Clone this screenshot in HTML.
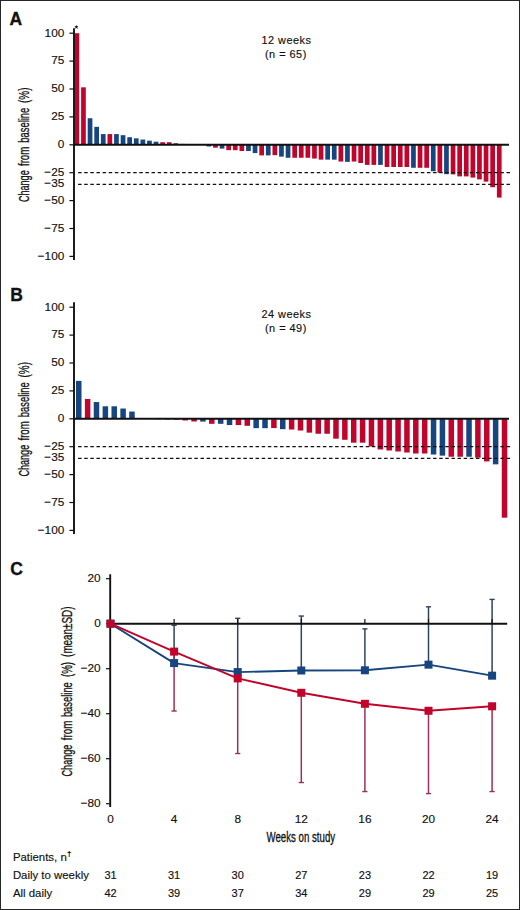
<!DOCTYPE html>
<html><head><meta charset="utf-8"><title>Figure</title>
<style>
html,body{margin:0;padding:0;background:#fff;}
body{width:520px;height:910px;overflow:hidden;}
.wrap{position:relative;width:520px;height:910px;background:#fff;}
svg{position:absolute;left:0;top:0;}
text{font-family:"Liberation Sans", sans-serif;fill:#111;stroke:#111;stroke-width:0.15px;}
.t{font-size:11.8px;}
.d{font-size:11px;}
.tb{font-size:11.4px;}
.h{font-size:10.9px;letter-spacing:0.5px;}
.yl{font-size:13.8px;stroke:#111;stroke-width:0.3px;}
.L{font-size:17.5px;font-weight:bold;stroke:#111;stroke-width:0.35px;}
</style></head>
<body><div class="wrap"><svg width="520" height="910" viewBox="0 0 520 910">
<rect x="74.50" y="33.20" width="4.7" height="111.60" fill="#C0042B"/>
<rect x="81.10" y="87.33" width="4.7" height="57.47" fill="#C0042B"/>
<rect x="87.70" y="118.24" width="4.7" height="26.56" fill="#17457F"/>
<rect x="94.30" y="126.83" width="4.7" height="17.97" fill="#17457F"/>
<rect x="100.90" y="134.09" width="4.7" height="10.71" fill="#17457F"/>
<rect x="107.50" y="134.09" width="4.7" height="10.71" fill="#C0042B"/>
<rect x="114.10" y="134.09" width="4.7" height="10.71" fill="#17457F"/>
<rect x="120.70" y="135.20" width="4.7" height="9.60" fill="#17457F"/>
<rect x="127.30" y="137.21" width="4.7" height="7.59" fill="#17457F"/>
<rect x="133.90" y="138.33" width="4.7" height="6.47" fill="#17457F"/>
<rect x="140.50" y="139.55" width="4.7" height="5.25" fill="#17457F"/>
<rect x="147.10" y="140.67" width="4.7" height="4.13" fill="#17457F"/>
<rect x="153.70" y="141.68" width="4.7" height="3.12" fill="#17457F"/>
<rect x="160.30" y="142.23" width="4.7" height="2.57" fill="#C0042B"/>
<rect x="166.90" y="142.23" width="4.7" height="2.57" fill="#C0042B"/>
<rect x="173.50" y="143.24" width="4.7" height="1.56" fill="#17457F"/>
<rect x="180.10" y="143.91" width="4.7" height="0.89" fill="#17457F"/>
<rect x="186.70" y="144.02" width="4.7" height="0.78" fill="#17457F"/>
<rect x="193.30" y="144.02" width="4.7" height="0.78" fill="#17457F"/>
<rect x="199.90" y="144.13" width="4.7" height="0.67" fill="#17457F"/>
<rect x="206.50" y="144.80" width="4.7" height="1.67" fill="#17457F"/>
<rect x="213.10" y="144.80" width="4.7" height="2.90" fill="#C0042B"/>
<rect x="219.70" y="144.80" width="4.7" height="3.79" fill="#17457F"/>
<rect x="226.30" y="144.80" width="4.7" height="5.36" fill="#C0042B"/>
<rect x="232.90" y="144.80" width="4.7" height="5.36" fill="#C0042B"/>
<rect x="239.50" y="144.80" width="4.7" height="6.25" fill="#C0042B"/>
<rect x="246.10" y="144.80" width="4.7" height="6.25" fill="#17457F"/>
<rect x="252.70" y="144.80" width="4.7" height="8.26" fill="#17457F"/>
<rect x="259.30" y="144.80" width="4.7" height="10.60" fill="#C0042B"/>
<rect x="265.90" y="144.80" width="4.7" height="10.60" fill="#17457F"/>
<rect x="272.50" y="144.80" width="4.7" height="10.38" fill="#C0042B"/>
<rect x="279.10" y="144.80" width="4.7" height="11.83" fill="#17457F"/>
<rect x="285.70" y="144.80" width="4.7" height="12.95" fill="#17457F"/>
<rect x="292.30" y="144.80" width="4.7" height="12.95" fill="#C0042B"/>
<rect x="298.90" y="144.80" width="4.7" height="12.95" fill="#C0042B"/>
<rect x="305.50" y="144.80" width="4.7" height="12.95" fill="#C0042B"/>
<rect x="312.10" y="144.80" width="4.7" height="13.73" fill="#C0042B"/>
<rect x="318.70" y="144.80" width="4.7" height="14.84" fill="#C0042B"/>
<rect x="325.30" y="144.80" width="4.7" height="14.84" fill="#17457F"/>
<rect x="331.90" y="144.80" width="4.7" height="14.84" fill="#17457F"/>
<rect x="338.50" y="144.80" width="4.7" height="16.74" fill="#C0042B"/>
<rect x="345.10" y="144.80" width="4.7" height="17.07" fill="#17457F"/>
<rect x="351.70" y="144.80" width="4.7" height="16.74" fill="#C0042B"/>
<rect x="358.30" y="144.80" width="4.7" height="18.19" fill="#C0042B"/>
<rect x="364.90" y="144.80" width="4.7" height="20.09" fill="#C0042B"/>
<rect x="371.50" y="144.80" width="4.7" height="20.09" fill="#C0042B"/>
<rect x="378.10" y="144.80" width="4.7" height="20.09" fill="#17457F"/>
<rect x="384.70" y="144.80" width="4.7" height="22.21" fill="#C0042B"/>
<rect x="391.30" y="144.80" width="4.7" height="22.21" fill="#C0042B"/>
<rect x="397.90" y="144.80" width="4.7" height="22.21" fill="#C0042B"/>
<rect x="404.50" y="144.80" width="4.7" height="22.21" fill="#C0042B"/>
<rect x="411.10" y="144.80" width="4.7" height="22.99" fill="#17457F"/>
<rect x="417.70" y="144.80" width="4.7" height="22.99" fill="#C0042B"/>
<rect x="424.30" y="144.80" width="4.7" height="22.99" fill="#C0042B"/>
<rect x="430.90" y="144.80" width="4.7" height="26.45" fill="#17457F"/>
<rect x="437.50" y="144.80" width="4.7" height="27.90" fill="#C0042B"/>
<rect x="444.10" y="144.80" width="4.7" height="29.35" fill="#17457F"/>
<rect x="450.70" y="144.80" width="4.7" height="29.57" fill="#C0042B"/>
<rect x="457.30" y="144.80" width="4.7" height="31.58" fill="#C0042B"/>
<rect x="463.90" y="144.80" width="4.7" height="31.58" fill="#C0042B"/>
<rect x="470.50" y="144.80" width="4.7" height="32.81" fill="#C0042B"/>
<rect x="477.10" y="144.80" width="4.7" height="34.60" fill="#C0042B"/>
<rect x="483.70" y="144.80" width="4.7" height="36.83" fill="#C0042B"/>
<rect x="490.30" y="144.80" width="4.7" height="42.41" fill="#C0042B"/>
<rect x="496.90" y="144.80" width="4.7" height="52.79" fill="#C0042B"/>
<line x1="78.1" y1="172.70" x2="510.8" y2="172.70" stroke="#111111" stroke-width="1.2" stroke-dasharray="3.5 2.62"/>
<line x1="78.1" y1="184.41" x2="510.8" y2="184.41" stroke="#111111" stroke-width="1.2" stroke-dasharray="3.5 2.62"/>
<line x1="74.0" y1="144.80" x2="509" y2="144.80" stroke="#111111" stroke-width="1.9"/>
<line x1="74.0" y1="28.20" x2="74.0" y2="260.00" stroke="#111111" stroke-width="1.9"/>
<line x1="69.4" y1="33.20" x2="74.0" y2="33.20" stroke="#111111" stroke-width="1.2"/>
<text x="64.3" y="36.55" text-anchor="end" class="t">100</text>
<line x1="69.4" y1="61.10" x2="74.0" y2="61.10" stroke="#111111" stroke-width="1.2"/>
<text x="64.3" y="64.45" text-anchor="end" class="t">75</text>
<line x1="69.4" y1="89.00" x2="74.0" y2="89.00" stroke="#111111" stroke-width="1.2"/>
<text x="64.3" y="92.35" text-anchor="end" class="t">50</text>
<line x1="69.4" y1="116.90" x2="74.0" y2="116.90" stroke="#111111" stroke-width="1.2"/>
<text x="64.3" y="120.25" text-anchor="end" class="t">25</text>
<line x1="69.4" y1="144.80" x2="74.0" y2="144.80" stroke="#111111" stroke-width="1.2"/>
<text x="64.3" y="148.15" text-anchor="end" class="t">0</text>
<line x1="69.4" y1="172.70" x2="74.0" y2="172.70" stroke="#111111" stroke-width="1.2"/>
<text x="64.3" y="176.05" text-anchor="end" class="t">−25</text>
<text x="64.3" y="187.21" text-anchor="end" class="t">−35</text>
<line x1="69.4" y1="200.60" x2="74.0" y2="200.60" stroke="#111111" stroke-width="1.2"/>
<text x="64.3" y="203.95" text-anchor="end" class="t">−50</text>
<line x1="69.4" y1="228.50" x2="74.0" y2="228.50" stroke="#111111" stroke-width="1.2"/>
<text x="64.3" y="231.85" text-anchor="end" class="t">−75</text>
<line x1="69.4" y1="256.40" x2="74.0" y2="256.40" stroke="#111111" stroke-width="1.2"/>
<text x="64.3" y="259.75" text-anchor="end" class="t">−100</text>
<text transform="translate(28.6,202.00) rotate(-90)" x="-0.06" class="yl" textLength="31.76" lengthAdjust="spacingAndGlyphs">Change</text>
<text transform="translate(28.6,166.30) rotate(-90)" x="0.26" class="yl" textLength="19.38" lengthAdjust="spacingAndGlyphs">from</text>
<text transform="translate(28.6,142.50) rotate(-90)" x="-0.21" class="yl" textLength="35.02" lengthAdjust="spacingAndGlyphs">baseline</text>
<text transform="translate(28.6,102.75) rotate(-90)" x="-0.22" class="yl" textLength="15.43" lengthAdjust="spacingAndGlyphs">(%)</text>
<text x="286.5" y="43.80" text-anchor="middle" class="h">12 weeks</text>
<text x="285.9" y="57.80" text-anchor="middle" class="h">(n = 65)</text>
<text x="9.6" y="24.60" class="L">A</text>
<polygon points="76.40,24.70 76.96,26.23 78.59,26.29 77.30,27.29 77.75,28.86 76.40,27.95 75.05,28.86 75.50,27.29 74.21,26.29 75.84,26.23" fill="#111"/>
<rect x="76.00" y="380.86" width="5.5" height="37.94" fill="#17457F"/>
<rect x="84.87" y="398.94" width="5.5" height="19.86" fill="#C0042B"/>
<rect x="93.74" y="402.06" width="5.5" height="16.74" fill="#17457F"/>
<rect x="102.61" y="406.30" width="5.5" height="12.50" fill="#17457F"/>
<rect x="111.48" y="406.30" width="5.5" height="12.50" fill="#17457F"/>
<rect x="120.35" y="408.53" width="5.5" height="10.27" fill="#17457F"/>
<rect x="129.22" y="411.55" width="5.5" height="7.25" fill="#17457F"/>
<rect x="138.09" y="418.58" width="5.5" height="0.22" fill="#17457F"/>
<rect x="146.96" y="418.80" width="5.5" height="0.22" fill="#17457F"/>
<rect x="155.83" y="418.80" width="5.5" height="0.45" fill="#17457F"/>
<rect x="164.70" y="418.80" width="5.5" height="0.67" fill="#17457F"/>
<rect x="173.57" y="418.80" width="5.5" height="0.89" fill="#C0042B"/>
<rect x="182.44" y="418.80" width="5.5" height="1.67" fill="#C0042B"/>
<rect x="191.31" y="418.80" width="5.5" height="2.68" fill="#C0042B"/>
<rect x="200.18" y="418.80" width="5.5" height="2.79" fill="#17457F"/>
<rect x="209.05" y="418.80" width="5.5" height="5.02" fill="#C0042B"/>
<rect x="217.92" y="418.80" width="5.5" height="5.02" fill="#17457F"/>
<rect x="226.79" y="418.80" width="5.5" height="6.25" fill="#17457F"/>
<rect x="235.66" y="418.80" width="5.5" height="6.25" fill="#C0042B"/>
<rect x="244.53" y="418.80" width="5.5" height="7.03" fill="#C0042B"/>
<rect x="253.40" y="418.80" width="5.5" height="9.37" fill="#17457F"/>
<rect x="262.27" y="418.80" width="5.5" height="9.37" fill="#17457F"/>
<rect x="271.14" y="418.80" width="5.5" height="9.26" fill="#C0042B"/>
<rect x="280.01" y="418.80" width="5.5" height="10.38" fill="#17457F"/>
<rect x="288.88" y="418.80" width="5.5" height="10.71" fill="#C0042B"/>
<rect x="297.75" y="418.80" width="5.5" height="11.72" fill="#C0042B"/>
<rect x="306.62" y="418.80" width="5.5" height="13.84" fill="#C0042B"/>
<rect x="315.49" y="418.80" width="5.5" height="14.95" fill="#C0042B"/>
<rect x="324.36" y="418.80" width="5.5" height="14.95" fill="#C0042B"/>
<rect x="333.23" y="418.80" width="5.5" height="19.86" fill="#C0042B"/>
<rect x="342.10" y="418.80" width="5.5" height="20.98" fill="#C0042B"/>
<rect x="350.97" y="418.80" width="5.5" height="23.88" fill="#C0042B"/>
<rect x="359.84" y="418.80" width="5.5" height="23.88" fill="#C0042B"/>
<rect x="368.71" y="418.80" width="5.5" height="27.68" fill="#C0042B"/>
<rect x="377.58" y="418.80" width="5.5" height="30.69" fill="#C0042B"/>
<rect x="386.45" y="418.80" width="5.5" height="31.69" fill="#C0042B"/>
<rect x="395.32" y="418.80" width="5.5" height="32.70" fill="#C0042B"/>
<rect x="404.19" y="418.80" width="5.5" height="33.70" fill="#C0042B"/>
<rect x="413.06" y="418.80" width="5.5" height="34.71" fill="#C0042B"/>
<rect x="421.93" y="418.80" width="5.5" height="34.71" fill="#C0042B"/>
<rect x="430.80" y="418.80" width="5.5" height="35.71" fill="#17457F"/>
<rect x="439.67" y="418.80" width="5.5" height="36.83" fill="#17457F"/>
<rect x="448.54" y="418.80" width="5.5" height="37.94" fill="#C0042B"/>
<rect x="457.41" y="418.80" width="5.5" height="37.94" fill="#C0042B"/>
<rect x="466.28" y="418.80" width="5.5" height="37.94" fill="#17457F"/>
<rect x="475.15" y="418.80" width="5.5" height="38.84" fill="#C0042B"/>
<rect x="484.02" y="418.80" width="5.5" height="42.63" fill="#C0042B"/>
<rect x="492.89" y="418.80" width="5.5" height="45.53" fill="#17457F"/>
<rect x="501.76" y="418.80" width="5.5" height="98.88" fill="#C0042B"/>
<line x1="78.1" y1="446.70" x2="510.8" y2="446.70" stroke="#111111" stroke-width="1.2" stroke-dasharray="3.5 2.62"/>
<line x1="78.1" y1="458.41" x2="510.8" y2="458.41" stroke="#111111" stroke-width="1.2" stroke-dasharray="3.5 2.62"/>
<line x1="74.0" y1="418.80" x2="509" y2="418.80" stroke="#111111" stroke-width="1.9"/>
<line x1="74.0" y1="302.20" x2="74.0" y2="534.00" stroke="#111111" stroke-width="1.9"/>
<line x1="69.4" y1="307.20" x2="74.0" y2="307.20" stroke="#111111" stroke-width="1.2"/>
<text x="64.3" y="310.55" text-anchor="end" class="t">100</text>
<line x1="69.4" y1="335.10" x2="74.0" y2="335.10" stroke="#111111" stroke-width="1.2"/>
<text x="64.3" y="338.45" text-anchor="end" class="t">75</text>
<line x1="69.4" y1="363.00" x2="74.0" y2="363.00" stroke="#111111" stroke-width="1.2"/>
<text x="64.3" y="366.35" text-anchor="end" class="t">50</text>
<line x1="69.4" y1="390.90" x2="74.0" y2="390.90" stroke="#111111" stroke-width="1.2"/>
<text x="64.3" y="394.25" text-anchor="end" class="t">25</text>
<line x1="69.4" y1="418.80" x2="74.0" y2="418.80" stroke="#111111" stroke-width="1.2"/>
<text x="64.3" y="422.15" text-anchor="end" class="t">0</text>
<line x1="69.4" y1="446.70" x2="74.0" y2="446.70" stroke="#111111" stroke-width="1.2"/>
<text x="64.3" y="450.05" text-anchor="end" class="t">−25</text>
<text x="64.3" y="461.21" text-anchor="end" class="t">−35</text>
<line x1="69.4" y1="474.60" x2="74.0" y2="474.60" stroke="#111111" stroke-width="1.2"/>
<text x="64.3" y="477.95" text-anchor="end" class="t">−50</text>
<line x1="69.4" y1="502.50" x2="74.0" y2="502.50" stroke="#111111" stroke-width="1.2"/>
<text x="64.3" y="505.85" text-anchor="end" class="t">−75</text>
<line x1="69.4" y1="530.40" x2="74.0" y2="530.40" stroke="#111111" stroke-width="1.2"/>
<text x="64.3" y="533.75" text-anchor="end" class="t">−100</text>
<text transform="translate(28.6,476.50) rotate(-90)" x="-0.06" class="yl" textLength="31.76" lengthAdjust="spacingAndGlyphs">Change</text>
<text transform="translate(28.6,440.80) rotate(-90)" x="0.26" class="yl" textLength="19.38" lengthAdjust="spacingAndGlyphs">from</text>
<text transform="translate(28.6,417.00) rotate(-90)" x="-0.21" class="yl" textLength="35.02" lengthAdjust="spacingAndGlyphs">baseline</text>
<text transform="translate(28.6,377.25) rotate(-90)" x="-0.22" class="yl" textLength="15.43" lengthAdjust="spacingAndGlyphs">(%)</text>
<text x="286.5" y="317.80" text-anchor="middle" class="h">24 weeks</text>
<text x="285.9" y="331.80" text-anchor="middle" class="h">(n = 49)</text>
<text x="10.3" y="300.60" class="L">B</text>
<text x="10.3" y="574.6" class="L">C</text>
<line x1="110.2" y1="574.3" x2="110.2" y2="807" stroke="#111111" stroke-width="1.9"/>
<line x1="106" y1="578.70" x2="110.2" y2="578.70" stroke="#111111" stroke-width="1.2"/>
<text x="100.7" y="582.20" text-anchor="end" class="t">20</text>
<line x1="106" y1="623.70" x2="110.2" y2="623.70" stroke="#111111" stroke-width="1.2"/>
<text x="100.7" y="627.20" text-anchor="end" class="t">0</text>
<line x1="106" y1="668.70" x2="110.2" y2="668.70" stroke="#111111" stroke-width="1.2"/>
<text x="100.7" y="672.20" text-anchor="end" class="t">−20</text>
<line x1="106" y1="713.70" x2="110.2" y2="713.70" stroke="#111111" stroke-width="1.2"/>
<text x="100.7" y="717.20" text-anchor="end" class="t">−40</text>
<line x1="106" y1="758.70" x2="110.2" y2="758.70" stroke="#111111" stroke-width="1.2"/>
<text x="100.7" y="762.20" text-anchor="end" class="t">−60</text>
<line x1="106" y1="803.70" x2="110.2" y2="803.70" stroke="#111111" stroke-width="1.2"/>
<text x="100.7" y="807.20" text-anchor="end" class="t">−80</text>
<line x1="174.10" y1="663.08" x2="174.10" y2="625.28" stroke="#31435C" stroke-width="1.5"/>
<line x1="171.50" y1="625.28" x2="176.70" y2="625.28" stroke="#31435C" stroke-width="1.4"/>
<line x1="237.70" y1="672.08" x2="237.70" y2="618.30" stroke="#31435C" stroke-width="1.5"/>
<line x1="235.10" y1="618.30" x2="240.30" y2="618.30" stroke="#31435C" stroke-width="1.4"/>
<line x1="301.30" y1="670.50" x2="301.30" y2="616.05" stroke="#31435C" stroke-width="1.5"/>
<line x1="298.70" y1="616.05" x2="303.90" y2="616.05" stroke="#31435C" stroke-width="1.4"/>
<line x1="364.90" y1="670.28" x2="364.90" y2="628.88" stroke="#31435C" stroke-width="1.5"/>
<line x1="362.30" y1="628.88" x2="367.50" y2="628.88" stroke="#31435C" stroke-width="1.4"/>
<line x1="428.50" y1="664.65" x2="428.50" y2="606.83" stroke="#31435C" stroke-width="1.5"/>
<line x1="425.90" y1="606.83" x2="431.10" y2="606.83" stroke="#31435C" stroke-width="1.4"/>
<line x1="492.10" y1="675.68" x2="492.10" y2="599.40" stroke="#31435C" stroke-width="1.5"/>
<line x1="489.50" y1="599.40" x2="494.70" y2="599.40" stroke="#31435C" stroke-width="1.4"/>
<line x1="174.10" y1="651.60" x2="174.10" y2="711.00" stroke="#9A3158" stroke-width="1.5"/>
<line x1="171.50" y1="711.00" x2="176.70" y2="711.00" stroke="#9A3158" stroke-width="1.4"/>
<line x1="237.70" y1="678.38" x2="237.70" y2="753.53" stroke="#9A3158" stroke-width="1.5"/>
<line x1="235.10" y1="753.53" x2="240.30" y2="753.53" stroke="#9A3158" stroke-width="1.4"/>
<line x1="301.30" y1="692.78" x2="301.30" y2="782.55" stroke="#9A3158" stroke-width="1.5"/>
<line x1="298.70" y1="782.55" x2="303.90" y2="782.55" stroke="#9A3158" stroke-width="1.4"/>
<line x1="364.90" y1="703.80" x2="364.90" y2="791.55" stroke="#9A3158" stroke-width="1.5"/>
<line x1="362.30" y1="791.55" x2="367.50" y2="791.55" stroke="#9A3158" stroke-width="1.4"/>
<line x1="428.50" y1="710.78" x2="428.50" y2="793.58" stroke="#9A3158" stroke-width="1.5"/>
<line x1="425.90" y1="793.58" x2="431.10" y2="793.58" stroke="#9A3158" stroke-width="1.4"/>
<line x1="492.10" y1="706.28" x2="492.10" y2="791.55" stroke="#9A3158" stroke-width="1.5"/>
<line x1="489.50" y1="791.55" x2="494.70" y2="791.55" stroke="#9A3158" stroke-width="1.4"/>
<line x1="110.2" y1="623.70" x2="507.2" y2="623.70" stroke="#111111" stroke-width="1.9"/>
<line x1="174.10" y1="623.70" x2="174.10" y2="618.90" stroke="#111111" stroke-width="1.2"/>
<line x1="237.70" y1="623.70" x2="237.70" y2="618.90" stroke="#111111" stroke-width="1.2"/>
<line x1="301.30" y1="623.70" x2="301.30" y2="618.90" stroke="#111111" stroke-width="1.2"/>
<line x1="364.90" y1="623.70" x2="364.90" y2="618.90" stroke="#111111" stroke-width="1.2"/>
<line x1="428.50" y1="623.70" x2="428.50" y2="618.90" stroke="#111111" stroke-width="1.2"/>
<line x1="492.10" y1="623.70" x2="492.10" y2="618.90" stroke="#111111" stroke-width="1.2"/>
<polyline points="110.50,623.70 174.10,663.08 237.70,672.08 301.30,670.50 364.90,670.28 428.50,664.65 492.10,675.68" fill="none" stroke="#17457F" stroke-width="1.9" stroke-linejoin="round"/>
<rect x="106.50" y="619.70" width="8" height="8" fill="#17457F"/>
<rect x="170.10" y="659.08" width="8" height="8" fill="#17457F"/>
<rect x="233.70" y="668.08" width="8" height="8" fill="#17457F"/>
<rect x="297.30" y="666.50" width="8" height="8" fill="#17457F"/>
<rect x="360.90" y="666.28" width="8" height="8" fill="#17457F"/>
<rect x="424.50" y="660.65" width="8" height="8" fill="#17457F"/>
<rect x="488.10" y="671.68" width="8" height="8" fill="#17457F"/>
<polyline points="110.50,623.70 174.10,651.60 237.70,678.38 301.30,692.78 364.90,703.80 428.50,710.78 492.10,706.28" fill="none" stroke="#C0042B" stroke-width="1.9" stroke-linejoin="round"/>
<rect x="106.50" y="619.70" width="8" height="8" fill="#C0042B"/>
<rect x="170.10" y="647.60" width="8" height="8" fill="#C0042B"/>
<rect x="233.70" y="674.38" width="8" height="8" fill="#C0042B"/>
<rect x="297.30" y="688.78" width="8" height="8" fill="#C0042B"/>
<rect x="360.90" y="699.80" width="8" height="8" fill="#C0042B"/>
<rect x="424.50" y="706.78" width="8" height="8" fill="#C0042B"/>
<rect x="488.10" y="702.28" width="8" height="8" fill="#C0042B"/>
<text x="110.50" y="823" text-anchor="middle" class="t">0</text>
<text x="174.10" y="823" text-anchor="middle" class="t">4</text>
<text x="237.70" y="823" text-anchor="middle" class="t">8</text>
<text x="301.30" y="823" text-anchor="middle" class="t">12</text>
<text x="364.90" y="823" text-anchor="middle" class="t">16</text>
<text x="428.50" y="823" text-anchor="middle" class="t">20</text>
<text x="492.10" y="823" text-anchor="middle" class="t">24</text>
<text x="300.8" y="842.3" text-anchor="middle" class="yl" style="font-size:14px" textLength="68.6" lengthAdjust="spacingAndGlyphs">Weeks on study</text>
<text transform="translate(71.9,776.40) rotate(-90)" x="-0.06" class="yl" textLength="31.76" lengthAdjust="spacingAndGlyphs">Change</text>
<text transform="translate(71.9,740.40) rotate(-90)" x="0.26" class="yl" textLength="19.58" lengthAdjust="spacingAndGlyphs">from</text>
<text transform="translate(71.9,716.90) rotate(-90)" x="-0.20" class="yl" textLength="34.92" lengthAdjust="spacingAndGlyphs">baseline</text>
<text transform="translate(71.9,676.90) rotate(-90)" x="-0.20" class="yl" textLength="15.10" lengthAdjust="spacingAndGlyphs">(%)</text>
<text transform="translate(71.9,656.70) rotate(-90)" x="-0.21" class="yl" textLength="50.42" lengthAdjust="spacingAndGlyphs">(mean±SD)</text>
<text x="12.9" y="861" class="tb">Patients, n<tspan dy="-5.2" dx="0.3" style="font-size:8px;font-weight:bold">†</tspan></text>
<text x="12.9" y="878.8" class="tb">Daily to weekly</text>
<text x="12.9" y="896.5" class="tb">All daily</text>
<text x="110.50" y="878.7" text-anchor="middle" class="d">31</text>
<text x="110.50" y="896.6" text-anchor="middle" class="d">42</text>
<text x="174.10" y="878.7" text-anchor="middle" class="d">31</text>
<text x="174.10" y="896.6" text-anchor="middle" class="d">39</text>
<text x="237.70" y="878.7" text-anchor="middle" class="d">30</text>
<text x="237.70" y="896.6" text-anchor="middle" class="d">37</text>
<text x="301.30" y="878.7" text-anchor="middle" class="d">27</text>
<text x="301.30" y="896.6" text-anchor="middle" class="d">34</text>
<text x="364.90" y="878.7" text-anchor="middle" class="d">23</text>
<text x="364.90" y="896.6" text-anchor="middle" class="d">29</text>
<text x="428.50" y="878.7" text-anchor="middle" class="d">22</text>
<text x="428.50" y="896.6" text-anchor="middle" class="d">29</text>
<text x="492.10" y="878.7" text-anchor="middle" class="d">19</text>
<text x="492.10" y="896.6" text-anchor="middle" class="d">25</text>
<rect x="0.5" y="0.5" width="519" height="909" fill="none" stroke="#262626" stroke-width="1"/>
</svg></div></body></html>
